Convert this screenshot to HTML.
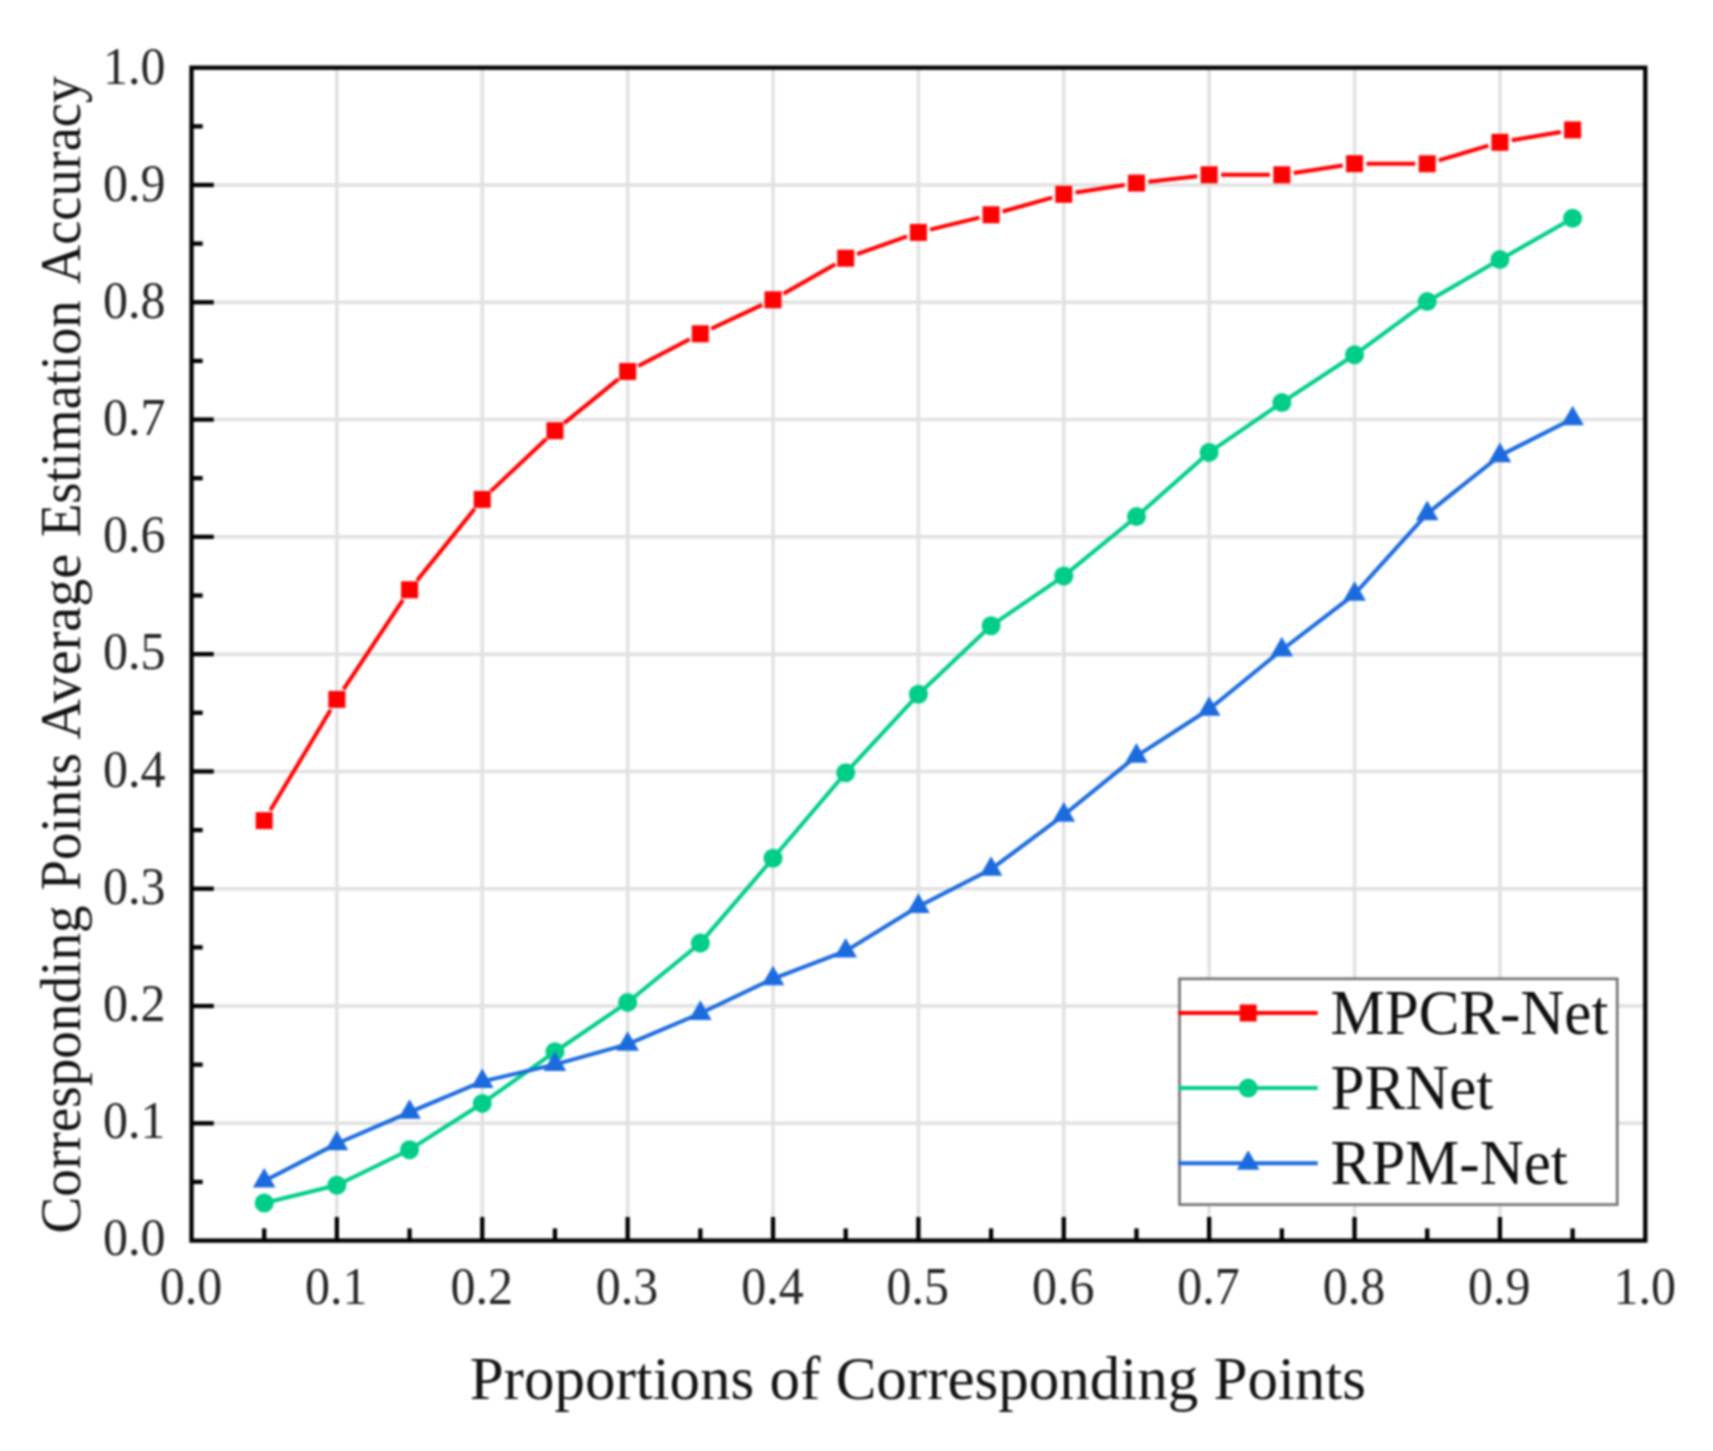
<!DOCTYPE html>
<html lang="en"><head><meta charset="utf-8"><title>Corresponding Points Average Estimation Accuracy</title>
<style>
html,body{margin:0;padding:0;background:#fff;}
body{width:1713px;height:1451px;position:relative;overflow:hidden;font-family:"Liberation Serif", "Times New Roman", serif;}
</style></head><body>
<svg width="1713" height="1451" viewBox="0 0 1713 1451" style="position:absolute;left:0;top:0">
<rect width="1713" height="1451" fill="#fff"/>
<defs><filter id="soft" x="0" y="0" width="1713" height="1451" filterUnits="userSpaceOnUse" color-interpolation-filters="sRGB"><feGaussianBlur stdDeviation="0.9"/></filter></defs>
<g filter="url(#soft)">
<g stroke="#e1e1e1" stroke-width="3.5" fill="none">
<line x1="336.88" y1="67.7" x2="336.88" y2="1240.6"/>
<line x1="191.5" y1="1123.31" x2="1645.3" y2="1123.31"/>
<line x1="482.26" y1="67.7" x2="482.26" y2="1240.6"/>
<line x1="191.5" y1="1006.02" x2="1645.3" y2="1006.02"/>
<line x1="627.64" y1="67.7" x2="627.64" y2="1240.6"/>
<line x1="191.5" y1="888.73" x2="1645.3" y2="888.73"/>
<line x1="773.02" y1="67.7" x2="773.02" y2="1240.6"/>
<line x1="191.5" y1="771.44" x2="1645.3" y2="771.44"/>
<line x1="918.40" y1="67.7" x2="918.40" y2="1240.6"/>
<line x1="191.5" y1="654.15" x2="1645.3" y2="654.15"/>
<line x1="1063.78" y1="67.7" x2="1063.78" y2="1240.6"/>
<line x1="191.5" y1="536.86" x2="1645.3" y2="536.86"/>
<line x1="1209.16" y1="67.7" x2="1209.16" y2="1240.6"/>
<line x1="191.5" y1="419.57" x2="1645.3" y2="419.57"/>
<line x1="1354.54" y1="67.7" x2="1354.54" y2="1240.6"/>
<line x1="191.5" y1="302.28" x2="1645.3" y2="302.28"/>
<line x1="1499.92" y1="67.7" x2="1499.92" y2="1240.6"/>
<line x1="191.5" y1="184.99" x2="1645.3" y2="184.99"/>
</g>
<g stroke="#ff0000" stroke-width="4.0" fill="none" stroke-linecap="butt">
<line x1="270.36" y1="810.31" x2="330.71" y2="709.69"/>
<line x1="343.51" y1="689.40" x2="402.94" y2="599.80"/>
<line x1="417.09" y1="580.45" x2="474.74" y2="508.75"/>
<line x1="490.98" y1="491.16" x2="546.23" y2="438.94"/>
<line x1="564.25" y1="423.12" x2="618.34" y2="379.08"/>
<line x1="638.29" y1="365.98" x2="689.68" y2="339.32"/>
<line x1="711.20" y1="328.72" x2="762.15" y2="304.88"/>
<line x1="783.44" y1="293.84" x2="835.29" y2="264.16"/>
<line x1="857.02" y1="254.19" x2="907.09" y2="236.41"/>
<line x1="930.06" y1="229.58" x2="979.43" y2="217.62"/>
<line x1="1002.64" y1="211.54" x2="1052.23" y2="197.56"/>
<line x1="1075.64" y1="192.47" x2="1124.61" y2="184.93"/>
<line x1="1148.39" y1="181.74" x2="1197.24" y2="176.16"/>
<line x1="1221.16" y1="174.80" x2="1269.85" y2="174.80"/>
<line x1="1293.71" y1="172.99" x2="1342.68" y2="165.51"/>
<line x1="1366.54" y1="163.72" x2="1415.23" y2="163.78"/>
<line x1="1438.74" y1="160.40" x2="1488.41" y2="145.70"/>
<line x1="1511.75" y1="140.28" x2="1560.78" y2="131.92"/>
</g>
<g fill="#ff0000" stroke="none"><rect x="255.69" y="812.10" width="17.0" height="17.0"/><rect x="328.38" y="690.90" width="17.0" height="17.0"/><rect x="401.07" y="581.30" width="17.0" height="17.0"/><rect x="473.76" y="490.90" width="17.0" height="17.0"/><rect x="546.45" y="422.20" width="17.0" height="17.0"/><rect x="619.14" y="363.00" width="17.0" height="17.0"/><rect x="691.83" y="325.30" width="17.0" height="17.0"/><rect x="764.52" y="291.30" width="17.0" height="17.0"/><rect x="837.21" y="249.70" width="17.0" height="17.0"/><rect x="909.90" y="223.90" width="17.0" height="17.0"/><rect x="982.59" y="206.30" width="17.0" height="17.0"/><rect x="1055.28" y="185.80" width="17.0" height="17.0"/><rect x="1127.97" y="174.60" width="17.0" height="17.0"/><rect x="1200.66" y="166.30" width="17.0" height="17.0"/><rect x="1273.35" y="166.30" width="17.0" height="17.0"/><rect x="1346.04" y="155.20" width="17.0" height="17.0"/><rect x="1418.73" y="155.30" width="17.0" height="17.0"/><rect x="1491.42" y="133.80" width="17.0" height="17.0"/><rect x="1564.11" y="121.40" width="17.0" height="17.0"/></g>
<g stroke="#00cd88" stroke-width="4.0" fill="none" stroke-linecap="butt">
<line x1="272.45" y1="1200.98" x2="328.62" y2="1187.22"/>
<line x1="344.52" y1="1181.47" x2="401.93" y2="1153.43"/>
<line x1="416.74" y1="1145.13" x2="475.09" y2="1107.97"/>
<line x1="489.19" y1="1098.48" x2="548.02" y2="1056.72"/>
<line x1="561.98" y1="1047.02" x2="620.61" y2="1007.18"/>
<line x1="634.23" y1="997.03" x2="693.74" y2="948.47"/>
<line x1="705.86" y1="936.65" x2="767.49" y2="864.75"/>
<line x1="778.53" y1="851.82" x2="840.20" y2="779.28"/>
<line x1="851.49" y1="766.56" x2="912.62" y2="700.54"/>
<line x1="924.58" y1="688.47" x2="984.91" y2="631.53"/>
<line x1="998.11" y1="620.90" x2="1056.76" y2="580.80"/>
<line x1="1070.36" y1="570.62" x2="1129.89" y2="521.98"/>
<line x1="1142.84" y1="510.97" x2="1202.79" y2="458.03"/>
<line x1="1216.17" y1="447.60" x2="1274.84" y2="407.40"/>
<line x1="1288.95" y1="397.93" x2="1347.44" y2="359.47"/>
<line x1="1361.40" y1="349.78" x2="1420.37" y2="306.62"/>
<line x1="1434.59" y1="297.35" x2="1492.56" y2="263.85"/>
<line x1="1507.31" y1="255.39" x2="1565.22" y2="222.41"/>
</g>
<g fill="#00cd88" stroke="none"><circle cx="264.19" cy="1203.00" r="9.5"/><circle cx="336.88" cy="1185.20" r="9.5"/><circle cx="409.57" cy="1149.70" r="9.5"/><circle cx="482.26" cy="1103.40" r="9.5"/><circle cx="554.95" cy="1051.80" r="9.5"/><circle cx="627.64" cy="1002.40" r="9.5"/><circle cx="700.33" cy="943.10" r="9.5"/><circle cx="773.02" cy="858.30" r="9.5"/><circle cx="845.71" cy="772.80" r="9.5"/><circle cx="918.40" cy="694.30" r="9.5"/><circle cx="991.09" cy="625.70" r="9.5"/><circle cx="1063.78" cy="576.00" r="9.5"/><circle cx="1136.47" cy="516.60" r="9.5"/><circle cx="1209.16" cy="452.40" r="9.5"/><circle cx="1281.85" cy="402.60" r="9.5"/><circle cx="1354.54" cy="354.80" r="9.5"/><circle cx="1427.23" cy="301.60" r="9.5"/><circle cx="1499.92" cy="259.60" r="9.5"/><circle cx="1572.61" cy="218.20" r="9.5"/></g>
<g stroke="#1c6bde" stroke-width="4.0" fill="none" stroke-linecap="butt">
<line x1="269.53" y1="1178.25" x2="331.54" y2="1146.35"/>
<line x1="342.39" y1="1141.22" x2="404.06" y2="1114.58"/>
<line x1="415.10" y1="1109.87" x2="476.73" y2="1083.83"/>
<line x1="488.10" y1="1080.13" x2="549.11" y2="1065.87"/>
<line x1="560.73" y1="1062.89" x2="621.86" y2="1045.81"/>
<line x1="633.16" y1="1041.86" x2="694.81" y2="1015.74"/>
<line x1="705.74" y1="1010.82" x2="767.61" y2="981.28"/>
<line x1="778.63" y1="976.56" x2="840.10" y2="953.14"/>
<line x1="850.82" y1="947.86" x2="913.29" y2="909.54"/>
<line x1="923.74" y1="903.67" x2="985.75" y2="871.93"/>
<line x1="995.90" y1="865.62" x2="1058.97" y2="818.68"/>
<line x1="1068.44" y1="811.32" x2="1131.81" y2="759.88"/>
<line x1="1141.51" y1="752.85" x2="1204.12" y2="712.55"/>
<line x1="1213.81" y1="705.50" x2="1277.20" y2="653.70"/>
<line x1="1286.61" y1="646.25" x2="1349.78" y2="597.85"/>
<line x1="1358.56" y1="589.74" x2="1423.21" y2="518.06"/>
<line x1="1431.92" y1="509.86" x2="1495.23" y2="459.34"/>
<line x1="1505.27" y1="452.88" x2="1567.26" y2="421.42"/>
</g>
<g fill="#1c6bde" stroke="none"><polygon points="264.19,1167.93 275.49,1187.53 252.89,1187.53"/><polygon points="336.88,1130.53 348.18,1150.13 325.58,1150.13"/><polygon points="409.57,1099.13 420.87,1118.73 398.27,1118.73"/><polygon points="482.26,1068.43 493.56,1088.03 470.96,1088.03"/><polygon points="554.95,1051.43 566.25,1071.03 543.65,1071.03"/><polygon points="627.64,1031.13 638.94,1050.73 616.34,1050.73"/><polygon points="700.33,1000.33 711.63,1019.93 689.03,1019.93"/><polygon points="773.02,965.63 784.32,985.23 761.72,985.23"/><polygon points="845.71,937.93 857.01,957.53 834.41,957.53"/><polygon points="918.40,893.33 929.70,912.93 907.10,912.93"/><polygon points="991.09,856.13 1002.39,875.73 979.79,875.73"/><polygon points="1063.78,802.03 1075.08,821.63 1052.48,821.63"/><polygon points="1136.47,743.03 1147.77,762.63 1125.17,762.63"/><polygon points="1209.16,696.23 1220.46,715.83 1197.86,715.83"/><polygon points="1281.85,636.83 1293.15,656.43 1270.55,656.43"/><polygon points="1354.54,581.13 1365.84,600.73 1343.24,600.73"/><polygon points="1427.23,500.53 1438.53,520.13 1415.93,520.13"/><polygon points="1499.92,442.53 1511.22,462.13 1488.62,462.13"/><polygon points="1572.61,405.63 1583.91,425.23 1561.31,425.23"/></g>
<g stroke="#000" stroke-width="4.3" fill="none">
<line x1="264.19" y1="1240.6" x2="264.19" y2="1228.3999999999999"/>
<line x1="191.5" y1="1181.95" x2="202.7" y2="1181.95"/>
<line x1="336.88" y1="1240.6" x2="336.88" y2="1217.0"/>
<line x1="191.5" y1="1123.31" x2="213.8" y2="1123.31"/>
<line x1="409.57" y1="1240.6" x2="409.57" y2="1228.3999999999999"/>
<line x1="191.5" y1="1064.66" x2="202.7" y2="1064.66"/>
<line x1="482.26" y1="1240.6" x2="482.26" y2="1217.0"/>
<line x1="191.5" y1="1006.02" x2="213.8" y2="1006.02"/>
<line x1="554.95" y1="1240.6" x2="554.95" y2="1228.3999999999999"/>
<line x1="191.5" y1="947.38" x2="202.7" y2="947.38"/>
<line x1="627.64" y1="1240.6" x2="627.64" y2="1217.0"/>
<line x1="191.5" y1="888.73" x2="213.8" y2="888.73"/>
<line x1="700.33" y1="1240.6" x2="700.33" y2="1228.3999999999999"/>
<line x1="191.5" y1="830.09" x2="202.7" y2="830.09"/>
<line x1="773.02" y1="1240.6" x2="773.02" y2="1217.0"/>
<line x1="191.5" y1="771.44" x2="213.8" y2="771.44"/>
<line x1="845.71" y1="1240.6" x2="845.71" y2="1228.3999999999999"/>
<line x1="191.5" y1="712.79" x2="202.7" y2="712.79"/>
<line x1="918.40" y1="1240.6" x2="918.40" y2="1217.0"/>
<line x1="191.5" y1="654.15" x2="213.8" y2="654.15"/>
<line x1="991.09" y1="1240.6" x2="991.09" y2="1228.3999999999999"/>
<line x1="191.5" y1="595.50" x2="202.7" y2="595.50"/>
<line x1="1063.78" y1="1240.6" x2="1063.78" y2="1217.0"/>
<line x1="191.5" y1="536.86" x2="213.8" y2="536.86"/>
<line x1="1136.47" y1="1240.6" x2="1136.47" y2="1228.3999999999999"/>
<line x1="191.5" y1="478.21" x2="202.7" y2="478.21"/>
<line x1="1209.16" y1="1240.6" x2="1209.16" y2="1217.0"/>
<line x1="191.5" y1="419.57" x2="213.8" y2="419.57"/>
<line x1="1281.85" y1="1240.6" x2="1281.85" y2="1228.3999999999999"/>
<line x1="191.5" y1="360.92" x2="202.7" y2="360.92"/>
<line x1="1354.54" y1="1240.6" x2="1354.54" y2="1217.0"/>
<line x1="191.5" y1="302.28" x2="213.8" y2="302.28"/>
<line x1="1427.23" y1="1240.6" x2="1427.23" y2="1228.3999999999999"/>
<line x1="191.5" y1="243.64" x2="202.7" y2="243.64"/>
<line x1="1499.92" y1="1240.6" x2="1499.92" y2="1217.0"/>
<line x1="191.5" y1="184.99" x2="213.8" y2="184.99"/>
<line x1="1572.61" y1="1240.6" x2="1572.61" y2="1228.3999999999999"/>
<line x1="191.5" y1="126.35" x2="202.7" y2="126.35"/>
<rect x="191.5" y="67.7" width="1453.8" height="1172.8999999999999"/>
</g>
<g font-family='"Liberation Serif", "Times New Roman", serif' font-size="50" fill="#262626">
<text transform="translate(190.90,1303.6) scale(1,1.045)" text-anchor="middle">0.0</text>
<text transform="translate(165.6,1255.20) scale(1,1.045)" text-anchor="end">0.0</text>
<text transform="translate(336.28,1303.6) scale(1,1.045)" text-anchor="middle">0.1</text>
<text transform="translate(165.6,1138.04) scale(1,1.045)" text-anchor="end">0.1</text>
<text transform="translate(481.66,1303.6) scale(1,1.045)" text-anchor="middle">0.2</text>
<text transform="translate(165.6,1020.88) scale(1,1.045)" text-anchor="end">0.2</text>
<text transform="translate(627.04,1303.6) scale(1,1.045)" text-anchor="middle">0.3</text>
<text transform="translate(165.6,903.72) scale(1,1.045)" text-anchor="end">0.3</text>
<text transform="translate(772.42,1303.6) scale(1,1.045)" text-anchor="middle">0.4</text>
<text transform="translate(165.6,786.56) scale(1,1.045)" text-anchor="end">0.4</text>
<text transform="translate(917.80,1303.6) scale(1,1.045)" text-anchor="middle">0.5</text>
<text transform="translate(165.6,669.40) scale(1,1.045)" text-anchor="end">0.5</text>
<text transform="translate(1063.18,1303.6) scale(1,1.045)" text-anchor="middle">0.6</text>
<text transform="translate(165.6,552.24) scale(1,1.045)" text-anchor="end">0.6</text>
<text transform="translate(1208.56,1303.6) scale(1,1.045)" text-anchor="middle">0.7</text>
<text transform="translate(165.6,435.08) scale(1,1.045)" text-anchor="end">0.7</text>
<text transform="translate(1353.94,1303.6) scale(1,1.045)" text-anchor="middle">0.8</text>
<text transform="translate(165.6,317.92) scale(1,1.045)" text-anchor="end">0.8</text>
<text transform="translate(1499.32,1303.6) scale(1,1.045)" text-anchor="middle">0.9</text>
<text transform="translate(165.6,200.76) scale(1,1.045)" text-anchor="end">0.9</text>
<text transform="translate(1644.70,1303.6) scale(1,1.045)" text-anchor="middle">1.0</text>
<text transform="translate(165.6,83.60) scale(1,1.045)" text-anchor="end">1.0</text>
</g>
<g font-family='"Liberation Serif", "Times New Roman", serif' font-size="61" fill="#141414">
<text x="917.85" y="1398.6" text-anchor="middle">Proportions of Corresponding Points</text>
<text transform="translate(79.6,1233.50) rotate(-90) scale(0.9651,1)" font-size="57.2">Corresponding</text>
<text transform="translate(79.6,890.50) rotate(-90) scale(0.9604,1)" font-size="57.2">Points</text>
<text transform="translate(79.6,739.50) rotate(-90) scale(0.9794,1)" font-size="57.2">Average</text>
<text transform="translate(79.6,537.00) rotate(-90) scale(0.9544,1)" font-size="57.2">Estimation</text>
<text transform="translate(79.6,284.00) rotate(-90) scale(0.9496,1)" font-size="57.2">Accuracy</text>
</g>
<rect x="1179.5" y="978.8" width="437.70000000000005" height="225.79999999999995" fill="#fff" stroke="#6e6e6e" stroke-width="2.6"/>
<line x1="1178" y1="1013.0" x2="1317.7" y2="1013.0" stroke="#ff0000" stroke-width="4.0"/>
<g fill="#ff0000"><rect x="1239.70" y="1004.50" width="17.0" height="17.0"/></g>
<line x1="1178" y1="1088.1" x2="1317.7" y2="1088.1" stroke="#00cd88" stroke-width="4.0"/>
<g fill="#00cd88"><circle cx="1248.20" cy="1088.10" r="9.5"/></g>
<line x1="1178" y1="1163.2" x2="1317.7" y2="1163.2" stroke="#1c6bde" stroke-width="4.0"/>
<g fill="#1c6bde"><polygon points="1248.20,1150.13 1259.50,1169.73 1236.90,1169.73"/></g>
<g font-family='"Liberation Serif", "Times New Roman", serif' font-size="61" fill="#101010">
<text transform="translate(1330.5,1034.0) scale(1,1.03)">MPCR-Net</text>
<text transform="translate(1330.5,1109.2) scale(1,1.03)">PRNet</text>
<text transform="translate(1330.5,1184.0) scale(1,1.03)">RPM-Net</text>
</g>
</g>
</svg>
</body></html>
